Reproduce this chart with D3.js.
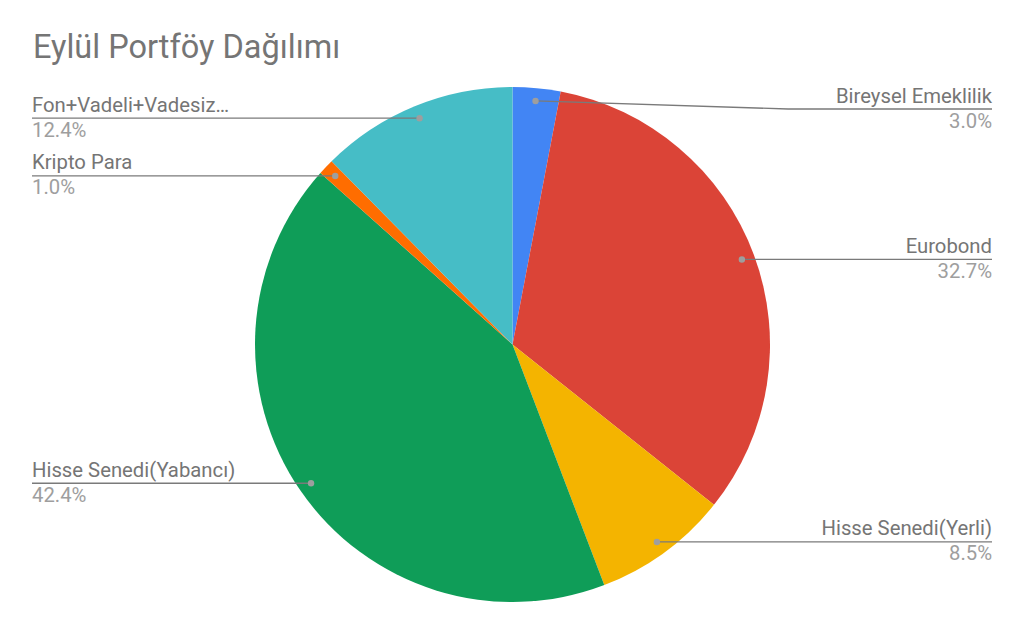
<!DOCTYPE html>
<html><head><meta charset="utf-8">
<script src="https://cdn.jsdelivr.net/npm/d3@7"></script>
<style>body{margin:0;background:#fff}svg{display:block}text{font-family:Roboto,sans-serif}</style>
</head><body>
<script>
const title = "Eylül Portföy Dağılımı";
const categories = ["Bireysel Emeklilik","Eurobond","Hisse Senedi(Yerli)","Hisse Senedi(Yabancı)","Kripto Para","Fon+Vadeli+Vadesiz…"];
const values = [3.0, 32.7, 8.5, 42.4, 1.0, 12.4];
const colors = ["#4285f4","#db4437","#f4b400","#0f9d58","#ff6d00","#46bdc6"];

const W = 1024, H = 633;
const cx = 512.5, cy = 344.5, R = 257.5;
const svg = d3.select("body").append("svg").attr("width", W).attr("height", H);

svg.append("text").attr("x", 33).attr("y", 58).attr("font-size", 32.5).attr("fill", "#757575").text(title);

const data = categories.map((c,i)=>({name:c, value:values[i], color:colors[i]}));
const pie = d3.pie().sort(null).value(d=>d.value);
const arcs = pie(data);
const arc = d3.arc().innerRadius(0).outerRadius(R);
const dotArc = d3.arc().innerRadius(R*0.95).outerRadius(R*0.95);

const g = svg.append("g").attr("transform", `translate(${cx},${cy})`);
g.selectAll("path").data(arcs).join("path").attr("d", arc).attr("fill", d=>d.data.color);

const fmt = d3.format(".1f");
const leftX = 32, rightX = 992;
const lab = svg.append("g");
arcs.forEach(a=>{
  const [dx, dy] = dotArc.centroid(a);
  const px = cx + dx, py = cy + dy;
  const right = dx > 0;
  let ly = right ? Math.max(py, 109) : py;
  let pts;
  if (right) {
    if (Math.abs(ly - py) > 1) pts = [[px,py],[cx + R*1.07, ly],[rightX, ly]];
    else pts = [[px,ly],[rightX,ly]];
  } else pts = [[px,ly],[leftX,ly]];
  lab.append("path").attr("d", d3.line()(pts)).attr("fill","none").attr("stroke","#7a7a7a").attr("stroke-width",1.3);
  lab.append("circle").attr("cx", px).attr("cy", py).attr("r", 3.2).attr("fill", "#9e9e9e");
  const tx = right ? rightX : leftX, anchor = right ? "end" : "start";
  lab.append("text").attr("x", tx).attr("y", ly - 6.5).attr("text-anchor", anchor).attr("font-size", 20.3).attr("fill", "#757575").text(a.data.name);
  lab.append("text").attr("x", tx).attr("y", ly + 18.5).attr("text-anchor", anchor).attr("font-size", 20.3).attr("fill", "#9e9e9e").text(fmt(a.data.value) + "%");
});
</script>
</body></html>
